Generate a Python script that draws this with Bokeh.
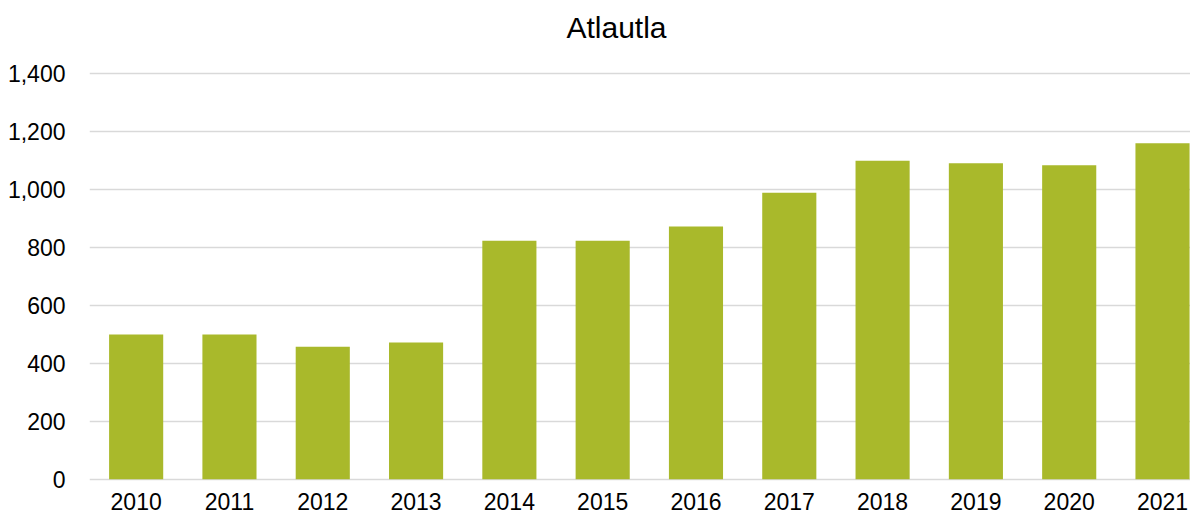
from bokeh.plotting import figure
from bokeh.models import Range1d, FixedTicker, NumeralTickFormatter, ColumnDataSource, LabelSet, Label
from bokeh.core.properties import value
from bokeh.embed import file_html
from bokeh.resources import INLINE

years = ["2010", "2011", "2012", "2013", "2014", "2015", "2016", "2017", "2018", "2019", "2020", "2021"]
values = [500, 500, 458, 472, 824, 824, 873, 990, 1100, 1092, 1085, 1161]
y_ticks = [0, 200, 400, 600, 800, 1000, 1200, 1400]
title_text = "Atlautla"

FONT = "Liberation Sans"
BAR_COLOR = "#A9B92B"
GRID_COLOR = "#D9D9D9"

idx = list(range(len(years)))
src = ColumnDataSource(dict(x=idx, top=values, year=years, base=[y_ticks[0]] * len(years)))

# frame spans the full height of the figure; the visible value axis runs 0..1400
p = figure(width=1190, height=515, output_backend="svg", toolbar_location=None,
           x_range=Range1d(-0.5, 11.30), y_range=Range1d(-125.4, 1653.9),
           min_border_left=89, min_border_right=0, min_border_top=0, min_border_bottom=0)

p.vbar(x="x", top="top", bottom="base", width=0.58, source=src, color=BAR_COLOR, line_color=None)

# category labels under the bars
p.add_layout(LabelSet(x="x", y="base", text="year", source=src, y_offset=-31,
                      text_align="center", text_baseline="alphabetic",
                      text_font=value(FONT), text_font_size=value("23px"),
                      text_color="#000000"))

# chart title
p.add_layout(Label(x=527, y=488, x_units="screen", y_units="screen", text=title_text,
                   text_align="center", text_baseline="alphabetic",
                   text_font=FONT, text_font_size="30px", text_color="#000000"))

p.outline_line_color = None
p.background_fill_color = "white"
p.border_fill_color = "white"

p.xaxis.visible = False
p.xgrid.visible = False
p.ygrid.grid_line_color = GRID_COLOR
p.ygrid.grid_line_width = 1.5
p.ygrid.ticker = FixedTicker(ticks=y_ticks)

p.yaxis.ticker = FixedTicker(ticks=y_ticks)
p.yaxis.formatter = NumeralTickFormatter(format="0,0")
p.yaxis.axis_line_color = None
p.yaxis.major_tick_line_color = None
p.yaxis.minor_tick_line_color = None
p.yaxis.major_tick_out = 0
p.yaxis.major_tick_in = 0
p.yaxis.major_label_text_font = FONT
p.yaxis.major_label_text_font_size = "23px"
p.yaxis.major_label_text_color = "#000000"
p.yaxis.major_label_standoff = 24

open("out.html", "w").write(file_html(p, INLINE))
